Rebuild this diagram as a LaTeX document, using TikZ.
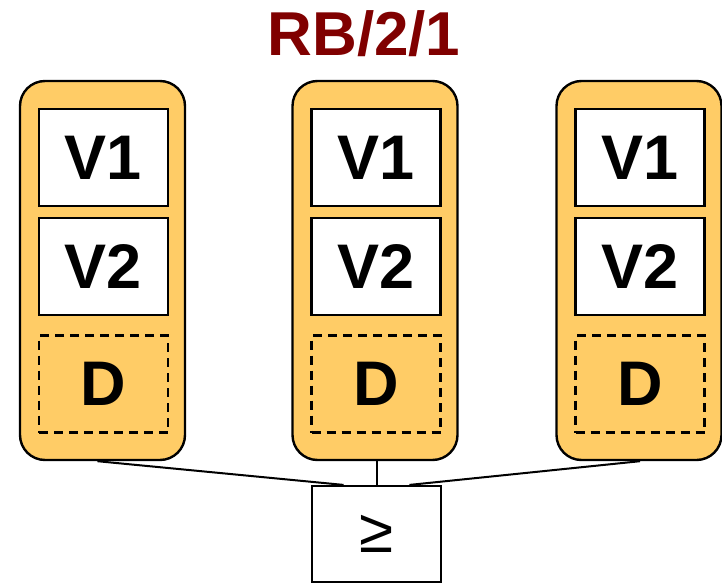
\documentclass[tikz,border=0pt]{standalone}
\usepackage{fontspec}
\setmainfont{Liberation Sans}
\usetikzlibrary{calc}
\definecolor{colfill}{HTML}{FFCC66}
\definecolor{titlered}{HTML}{800000}
\tikzset{
  column/.style={draw=black, line width=2.4pt, fill=colfill, rounded corners=25pt,
    minimum width=165pt, minimum height=379pt, inner sep=0pt},
  vbox/.style={draw=black, line width=2.4pt, fill=white, minimum width=129pt,
    minimum height=97pt, inner sep=0pt, font=\fontsize{63}{63}\selectfont\bfseries, text depth=0pt},
  dbox/.style={vbox, fill=none, dash pattern=on 9pt off 6pt},
  cmpbox/.style={draw=black, line width=2.2pt, fill=white, minimum width=129pt,
    minimum height=96pt, inner sep=0pt, font=\fontsize{62}{62}\selectfont},
  conn/.style={draw=black, line width=2pt},
}
\begin{document}
\begin{tikzpicture}[x=1pt,y=-1pt]
\useasboundingbox (0,0) rectangle (722,583);
\node[font=\fontsize{62}{62}\selectfont\bfseries, text=titlered, inner sep=0pt, text depth=0pt] (title) at (364,33) {RB/2/1};
\foreach \n/\x in {1/102.5, 2/375, 3/639} {
  \node[column] (c\n) at (\x,270.5) {};
  \node[vbox] (v1\n) at (\x+1,157.5) {V1};
  \node[vbox] (v2\n) at (\x+1,266.5) {V2};
  \node[dbox] (d\n) at (\x+1,384) {D};
}
\node[cmpbox] (cmp) at (376.5,534) {≥};
\draw[conn] ([xshift=-5pt]c1.south) -- ([xshift=-33pt]cmp.north);
\draw[conn] ([xshift=2pt]c2.south) -- ([xshift=0.5pt]cmp.north);
\draw[conn] ([xshift=1pt]c3.south) -- ([xshift=33pt]cmp.north);
\end{tikzpicture}
\end{document}
